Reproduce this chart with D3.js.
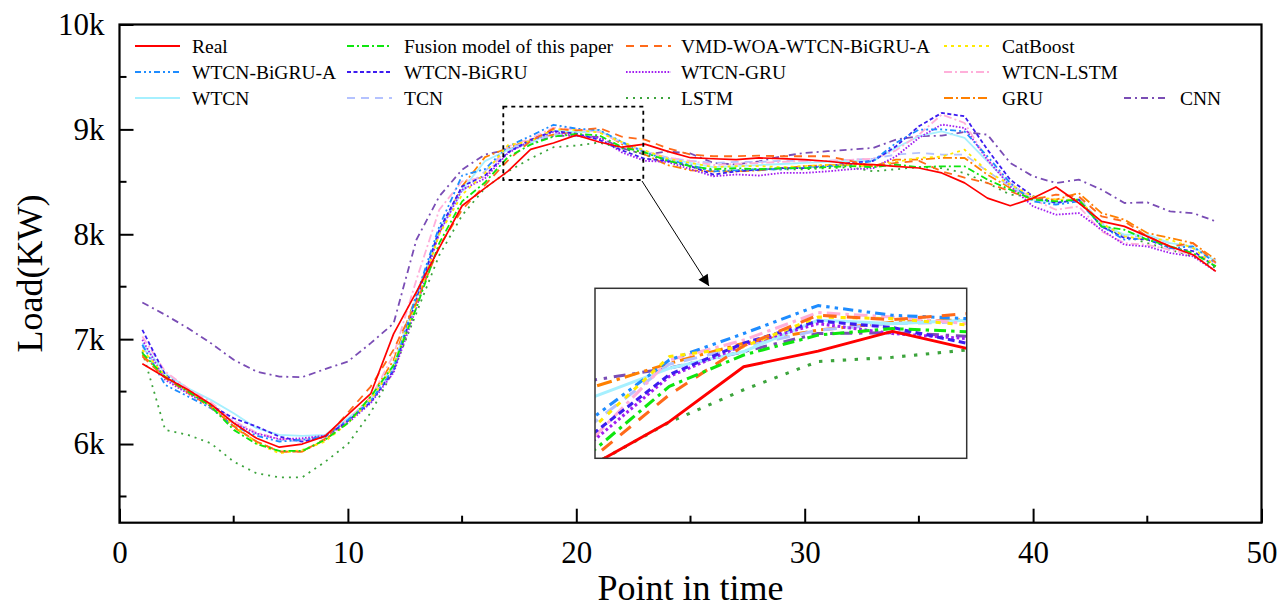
<!DOCTYPE html>
<html>
<head>
<meta charset="utf-8">
<title>Load forecasting comparison</title>
<script src="https://cdn.jsdelivr.net/npm/d3@7/dist/d3.min.js"></script>
<style>
    body { margin: 0; background: #fff; }
    text { font-family: "Liberation Serif", "Times New Roman", serif; fill: #000; }
</style>
</head>
<body>
<script>
// x categories (point in time)
var points = [1, 2, 3, 4, 5, 6, 7, 8, 9, 10, 11, 12, 13, 14, 15, 16, 17, 18, 19, 20, 21, 22, 23, 24,
              25, 26, 27, 28, 29, 30, 31, 32, 33, 34, 35, 36, 37, 38, 39, 40, 41, 42, 43, 44, 45, 46, 47, 48];

// load values (KW)
var real = [6765, 6637, 6517, 6380, 6200, 6055, 5970, 6000, 6075, 6280, 6480, 7050, 7450, 7870, 8272, 8440,
            8600, 8810, 8870, 8945, 8880, 8830, 8860, 8790, 8730, 8720, 8712, 8728, 8722, 8712, 8696, 8674,
            8664, 8648, 8632, 8585, 8490, 8345, 8272, 8345, 8451, 8298, 8123, 8075, 7980, 7884, 7805, 7646];
var fusion = [6866, 6640, 6500, 6360, 6135, 6000, 5934, 5934, 6040, 6200, 6453, 6750, 7300, 7916, 8314, 8494,
              8735, 8855, 8931, 8956, 8944, 8830, 8780, 8700, 8650, 8620, 8630, 8620, 8630, 8630, 8640, 8650,
              8640, 8664, 8640, 8648, 8648, 8521, 8425, 8330, 8314, 8330, 8075, 8043, 7948, 7884, 7821, 7694];
var vmdWoa = [6835, 6630, 6490, 6350, 6170, 6023, 5928, 5928, 6050, 6300, 6548, 6900, 7350, 7884, 8234, 8469,
              8703, 8890, 9007, 8990, 9013, 8930, 8903, 8820, 8760, 8744, 8744, 8750, 8744, 8744, 8744, 8700,
              8648, 8680, 8700, 8600, 8540, 8489, 8409, 8330, 8377, 8361, 8170, 8123, 7980, 7884, 7915, 7730];
var catBoost = [6898, 6650, 6500, 6370, 6180, 6007, 5912, 5944, 6023, 6200, 6420, 6750, 7340, 8000, 8377, 8583,
                8849, 8887, 9000, 8994, 8970, 8880, 8800, 8720, 8680, 8640, 8650, 8650, 8640, 8650, 8660, 8660,
                8650, 8690, 8728, 8740, 8807, 8600, 8473, 8361, 8330, 8330, 8105, 7980, 7950, 7948, 7870, 7694];
var wtcnBigruA = [6946, 6564, 6453, 6342, 6170, 6080, 6023, 6040, 6075, 6230, 6410, 6720, 7420, 8075, 8560, 8621,
                  8836, 8937, 9044, 9007, 8994, 8880, 8780, 8710, 8660, 8600, 8610, 8620, 8620, 8640, 8650, 8660,
                  8700, 8871, 8998, 9000, 8980, 8743, 8489, 8314, 8282, 8314, 8075, 7948, 7964, 7868, 7884, 7725];
var wtcnBigru = [7089, 6660, 6500, 6370, 6246, 6167, 6071, 6023, 6070, 6220, 6400, 6700, 7380, 8043, 8457, 8560,
                 8780, 8900, 8985, 8960, 8900, 8800, 8720, 8700, 8650, 8569, 8600, 8615, 8630, 8630, 8650, 8680,
                 8700, 8839, 9030, 9157, 9125, 8807, 8520, 8361, 8298, 8330, 8075, 7964, 7950, 7870, 7840, 7690];
var wtcnGru = [6994, 6612, 6480, 6360, 6200, 6100, 6046, 6055, 6080, 6200, 6390, 6680, 7300, 8012, 8425, 8532,
               8773, 8893, 8975, 8937, 8918, 8780, 8700, 8690, 8620, 8553, 8570, 8560, 8585, 8585, 8600, 8620,
               8630, 8744, 8919, 9046, 9014, 8711, 8457, 8266, 8187, 8202, 8043, 7900, 7884, 7821, 7789, 7646];
var wtcnLstm = [7025, 6692, 6530, 6400, 6220, 6110, 6050, 6040, 6080, 6230, 6440, 6850, 7566, 8234, 8505, 8545,
                8836, 8912, 9017, 9000, 8975, 8870, 8790, 8730, 8700, 8660, 8670, 8680, 8690, 8700, 8700, 8710,
                8720, 8800, 8950, 9141, 9061, 8711, 8489, 8330, 8234, 8266, 8027, 7916, 7900, 7852, 7805, 7725];
var wtcn = [6962, 6676, 6532, 6421, 6294, 6151, 6087, 6077, 6087, 6246, 6420, 6760, 7400, 8043, 8425, 8697,
            8804, 8868, 8988, 8975, 8988, 8880, 8790, 8720, 8680, 8640, 8650, 8660, 8670, 8680, 8690, 8700,
            8700, 8825, 8935, 8982, 8918, 8695, 8473, 8330, 8298, 8330, 8091, 7996, 7996, 7916, 7884, 7741];
var tcn = [6930, 6628, 6490, 6370, 6210, 6100, 6040, 6023, 6070, 6220, 6400, 6720, 7350, 8020, 8410, 8600,
           8820, 8887, 8950, 8975, 8982, 8870, 8790, 8730, 8700, 8680, 8690, 8690, 8700, 8700, 8700, 8710,
           8720, 8760, 8776, 8760, 8760, 8600, 8457, 8330, 8298, 8346, 8107, 7980, 7980, 7916, 7868, 7757];
var lstm = [6882, 6135, 6087, 6007, 5832, 5721, 5683, 5683, 5830, 6000, 6300, 6700, 7250, 7800, 8180, 8440,
            8598, 8722, 8830, 8846, 8874, 8820, 8760, 8700, 8640, 8610, 8610, 8620, 8620, 8620, 8630, 8640,
            8600, 8620, 8640, 8630, 8584, 8489, 8377, 8361, 8298, 8346, 8075, 7980, 7916, 7852, 7789, 7678];
var gru = [6850, 6640, 6500, 6370, 6160, 6023, 5928, 5928, 6040, 6220, 6450, 6800, 7420, 8012, 8457, 8735,
           8823, 8900, 8950, 8980, 8990, 8860, 8760, 8660, 8610, 8600, 8600, 8610, 8630, 8650, 8660, 8660,
           8650, 8712, 8712, 8728, 8727, 8568, 8441, 8346, 8330, 8393, 8202, 8139, 8012, 7964, 7916, 7757];
var cnn = [7350, 7232, 7105, 6962, 6803, 6691, 6643, 6638, 6714, 6787, 6962, 7150, 7948, 8361, 8616, 8760,
           8805, 8868, 8937, 8940, 8927, 8820, 8760, 8790, 8770, 8680, 8665, 8695, 8744, 8775, 8792, 8807,
           8823, 8903, 8935, 8940, 8975, 8950, 8680, 8552, 8489, 8521, 8425, 8298, 8304, 8218, 8202, 8123];

// axis ticks
var xMajorTicks = [0, 10, 20, 30, 40, 50];
var xMinorTicks = [5, 15, 25, 35, 45];
var yMajorTicks = [6000, 7000, 8000, 9000, 10000];
var yMinorTicks = [5500, 6500, 7500, 8500, 9500];

// legend order = drawing table; styles live here, not in the value arrays
var series = [
    {name: "Real", values: real, color: "#ff0000", dash: null, w: 1.7},
    {name: "Fusion model of this paper", values: fusion, color: "#0ee60e", dash: "7,3,2,3", w: 1.8},
    {name: "VMD-WOA-WTCN-BiGRU-A", values: vmdWoa, color: "#ff6a1a", dash: "8,6", w: 1.8},
    {name: "CatBoost", values: catBoost, color: "#ffea00", dash: "3,4", w: 1.8},
    {name: "WTCN-BiGRU-A", values: wtcnBigruA, color: "#1e8cff", dash: "6,3,2,3,2,3", w: 1.8},
    {name: "WTCN-BiGRU", values: wtcnBigru, color: "#3d1cf0", dash: "4,2.5", w: 1.8},
    {name: "WTCN-GRU", values: wtcnGru, color: "#a21ff0", dash: "1.6,1.6", w: 1.8},
    {name: "WTCN-LSTM", values: wtcnLstm, color: "#ffb0da", dash: "8,3,2,3", w: 1.8},
    {name: "WTCN", values: wtcn, color: "#a6f0ff", dash: null, w: 1.8},
    {name: "TCN", values: tcn, color: "#b4c2ff", dash: "8,6", w: 1.8},
    {name: "LSTM", values: lstm, color: "#3ca43c", dash: "2,5", w: 1.8},
    {name: "GRU", values: gru, color: "#ff8000", dash: "9,3,2,3", w: 1.8},
    {name: "CNN", values: cnn, color: "#7a4db5", dash: "7,4,2,4", w: 1.8}
];

var width = 1279, height = 609;
var plot = {left: 119.5, right: 1261.5, top: 24.5, bottom: 522.7};
var inset = {left: 595, right: 966.7, top: 288.3, bottom: 458.3};

var svg = d3.select("body").append("svg")
    .attr("width", width)
    .attr("height", height);

var x = d3.scaleLinear().domain([0, 50]).range([plot.left, plot.right]);
var y = d3.scaleLinear().domain([5250, 10000]).range([plot.bottom, plot.top]);

// zoomed window (inset)
var xi = d3.scaleLinear().domain([16, 21]).range([inset.left, inset.right]);
var yi = d3.scaleLinear().domain([8460, 9110]).range([inset.bottom, inset.top]);

var defs = svg.append("defs");
defs.append("clipPath").attr("id", "plot-clip")
    .append("rect")
    .attr("x", plot.left).attr("y", plot.top)
    .attr("width", plot.right - plot.left).attr("height", plot.bottom - plot.top);
defs.append("clipPath").attr("id", "inset-clip")
    .append("rect")
    .attr("x", inset.left).attr("y", inset.top)
    .attr("width", inset.right - inset.left).attr("height", inset.bottom - inset.top);
defs.append("marker")
    .attr("id", "arrow")
    .attr("viewBox", "0 0 10 10")
    .attr("refX", 10).attr("refY", 5)
    .attr("markerWidth", 13).attr("markerHeight", 11)
    .attr("markerUnits", "userSpaceOnUse")
    .attr("orient", "auto")
    .append("path")
    .attr("d", "M0,0L10,5L0,10Z")
    .attr("fill", "#000");

// lines, drawn back to front so Real ends on top
function drawLines(g, sx, sy, scale) {
    var line = d3.line()
        .x(function (d, i) { return sx(points[i]); })
        .y(function (d) { return sy(d); });

    g.selectAll("path.series")
        .data(series.slice().reverse())
        .enter().append("path")
        .attr("class", "series")
        .attr("fill", "none")
        .attr("stroke", function (d) { return d.color; })
        .attr("stroke-width", function (d) { return d.w * scale; })
        .attr("stroke-dasharray", function (d) {
            if (!d.dash) return null;
            return d.dash.split(",").map(function (v) { return +v * scale; }).join(",");
        })
        .attr("stroke-linejoin", "round")
        .attr("d", function (d) { return line(d.values); });
}

var bodyG = svg.append("g").attr("clip-path", "url(#plot-clip)");
drawLines(bodyG, x, y, 1);

// axes: ticks point inward, only bottom and left carry them
var xAxis = d3.axisBottom(x)
    .tickValues(xMajorTicks)
    .tickSize(-14)
    .tickPadding(18)
    .tickFormat(d3.format("d"));
var xAxisG = svg.append("g")
    .attr("transform", "translate(0," + plot.bottom + ")")
    .call(xAxis);
xAxisG.selectAll("g.minor")
    .data(xMinorTicks)
    .enter().append("line")
    .attr("x1", function (d) { return x(d); })
    .attr("x2", function (d) { return x(d); })
    .attr("y1", 0).attr("y2", -7);

var yAxis = d3.axisLeft(y)
    .tickValues(yMajorTicks)
    .tickSize(-14)
    .tickPadding(15)
    .tickFormat(function (d) { return (d / 1000) + "k"; });
var yAxisG = svg.append("g")
    .attr("transform", "translate(" + plot.left + ",0)")
    .call(yAxis);
yAxisG.selectAll("g.minor")
    .data(yMinorTicks)
    .enter().append("line")
    .attr("x1", 0).attr("x2", 7)
    .attr("y1", function (d) { return y(d); })
    .attr("y2", function (d) { return y(d); });

[xAxisG, yAxisG].forEach(function (g) {
    g.select(".domain").remove();
    g.selectAll("line").attr("stroke", "#000").attr("stroke-width", 2);
    g.selectAll("text")
        .style("font-family", "'Liberation Serif', 'Times New Roman', serif")
        .style("font-size", "31px")
        .attr("fill", "#000");
});

// frame
svg.append("rect")
    .attr("x", plot.left).attr("y", plot.top)
    .attr("width", plot.right - plot.left).attr("height", plot.bottom - plot.top)
    .attr("fill", "none")
    .attr("stroke", "#000")
    .attr("stroke-width", 2.2);

// axis titles
svg.append("text")
    .attr("transform", "translate(42," + ((plot.top + plot.bottom) / 2) + ") rotate(-90)")
    .attr("text-anchor", "middle")
    .style("font-size", "36px")
    .text("Load(KW)");
svg.append("text")
    .attr("x", (plot.left + plot.right) / 2)
    .attr("y", 600)
    .attr("text-anchor", "middle")
    .style("font-size", "36px")
    .text("Point in time");

// legend, 4 columns (last row has a fifth)
var legendCols = [135, 347, 626, 944, 1124];
var legendText = [192, 404, 681, 1002, 1180];
var legendRows = [46, 72, 98];
var legendG = svg.append("g").attr("class", "legend");
series.forEach(function (s, i) {
    var row = i < 8 ? Math.floor(i / 4) : 2;
    var col = i < 8 ? i % 4 : i - 8;
    var lx = legendCols[col], ly = legendRows[row];
    legendG.append("line")
        .attr("x1", lx).attr("x2", lx + 45)
        .attr("y1", ly).attr("y2", ly)
        .attr("stroke", s.color)
        .attr("stroke-width", 2)
        .attr("stroke-dasharray", s.dash);
    legendG.append("text")
        .attr("x", legendText[col])
        .attr("y", ly + 6.5)
        .style("font-size", "19.5px")
        .text(s.name);
});

// dashed box marking the zoomed window, plus arrow to the inset
svg.append("rect")
    .attr("x", 503.3).attr("y", 106.7)
    .attr("width", 140).attr("height", 73.3)
    .attr("fill", "none")
    .attr("stroke", "#000")
    .attr("stroke-width", 1.8)
    .attr("stroke-dasharray", "4,4");
svg.append("line")
    .attr("x1", 642).attr("y1", 181)
    .attr("x2", 709).attr("y2", 286)
    .attr("stroke", "#000")
    .attr("stroke-width", 1)
    .attr("marker-end", "url(#arrow)");

// inset
svg.append("rect")
    .attr("x", inset.left).attr("y", inset.top)
    .attr("width", inset.right - inset.left).attr("height", inset.bottom - inset.top)
    .attr("fill", "#fff");
var insetG = svg.append("g").attr("clip-path", "url(#inset-clip)");
drawLines(insetG, xi, yi, 1.7);
svg.append("rect")
    .attr("x", inset.left).attr("y", inset.top)
    .attr("width", inset.right - inset.left).attr("height", inset.bottom - inset.top)
    .attr("fill", "none")
    .attr("stroke", "#333")
    .attr("stroke-width", 1.5);
</script>
</body>
</html>
